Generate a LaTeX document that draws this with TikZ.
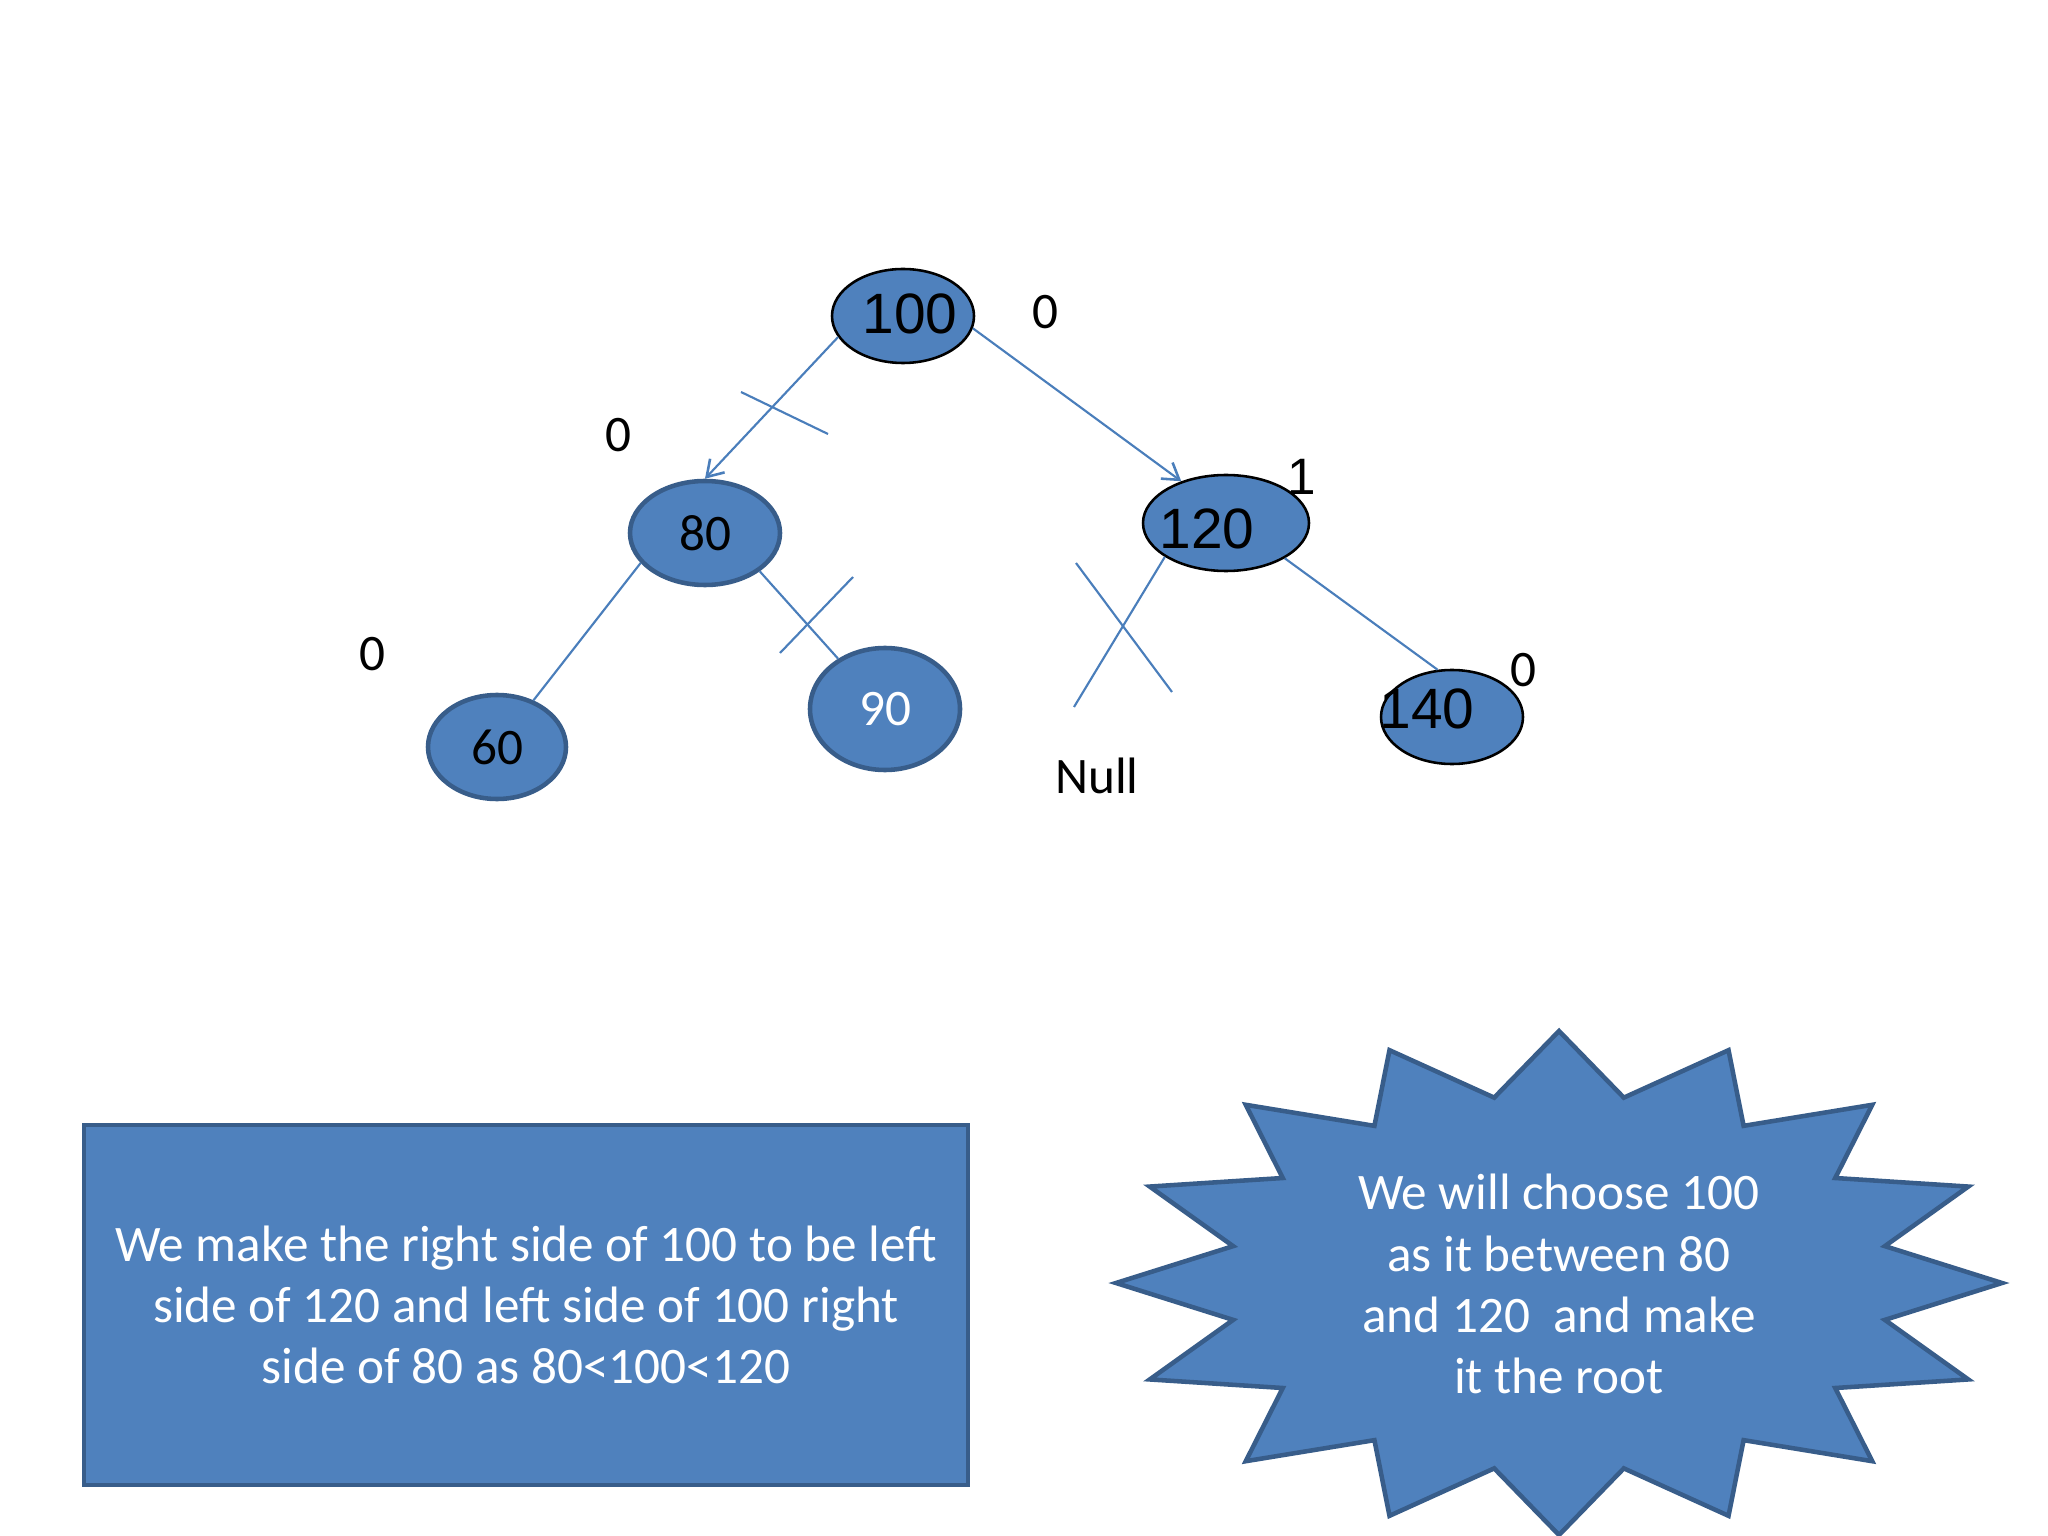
\documentclass[tikz,border=0pt]{standalone}
\usepackage{fontspec}
\setmainfont{Carlito}
\newfontfamily\arialf{Liberation Sans}
\usetikzlibrary{shapes.geometric,arrows.meta}
\definecolor{ppfill}{HTML}{4F81BD}
\definecolor{ppline}{HTML}{385D8A}
\definecolor{conn}{HTML}{4A7EBB}
\newcommand\pxu{0.3515625pt}
\begin{document}
\begin{tikzpicture}[x=0.3515625pt,y=-0.3515625pt,
  treenode/.style={ellipse, fill=ppfill, inner sep=0pt},
  bluerim/.style={draw=ppline, line width=1.6pt},
  blackrim/.style={draw=black, line width=0.9pt},
  calib/.style={font=\fontsize{18}{21.5}\selectfont, inner sep=0pt},
  arialtxt/.style={font=\arialf\fontsize{20}{24}\selectfont, inner sep=0pt},
  arialsm/.style={font=\arialf\fontsize{18}{21.5}\selectfont, inner sep=0pt},
  conline/.style={draw=conn, line width=0.75pt},
  arrowline/.style={conline, -{Straight Barb[length=5.5pt,width=7pt,line width=0.9pt]}},
  shapebox/.style={draw=ppline, fill=ppfill, line width=1.6pt}
]
\useasboundingbox (0,0) rectangle (2048,1536);

% tree nodes
\node[treenode, blackrim, minimum width=142*\pxu, minimum height=94*\pxu] (n100) at (903,316) {};
\node[arialtxt] (t100) at (910,314) {100};
\node[treenode, bluerim, minimum width=150*\pxu, minimum height=104*\pxu, calib] (n80) at (705,533) {80};
\node[treenode, blackrim, minimum width=166*\pxu, minimum height=96*\pxu] (n120) at (1226,523) {};
\node[arialtxt] (t120) at (1207,529) {120};
\node[treenode, bluerim, minimum width=138*\pxu, minimum height=104*\pxu, calib] (n60) at (497,747) {60};
\node[treenode, bluerim, minimum width=150*\pxu, minimum height=122*\pxu, calib, text=white] (n90) at (885,709) {90};
\node[treenode, blackrim, minimum width=142*\pxu, minimum height=94*\pxu] (n140) at (1452,717) {};
\node[arialtxt] (t140) at (1427,709) {140};

% balance labels
\node[calib] (z1) at (1045,312) {0};
\node[calib] (z2) at (618,435) {0};
\node[calib] (z3) at (372,654) {0};
\node[calib] (z4) at (1523,670) {0};
\node[arialsm] (one) at (1302,477) {1};
\node[calib] (null) at (1097,776) {Null};

% connectors
\draw[arrowline] (n100.198) -- (n80.north);
\draw[arrowline] (n100.-10) -- (n120.137);
\draw[conline] (n80.205) -- (n60.52);
\draw[conline] (n80.-35) -- (n90.133);
\coordinate (nullend) at (1074,707);
\draw[conline] (n120.209) -- (nullend);
\draw[conline] (n120.-31) -- (n140.107);

% cut marks
\coordinate (k1a) at (741,392);
\coordinate (k1b) at (828,434);
\coordinate (k2a) at (780,653);
\coordinate (k2b) at (853,577);
\coordinate (k3a) at (1076,563);
\coordinate (k3b) at (1172,692);
\draw[conline] (k1a) -- (k1b);
\draw[conline] (k2a) -- (k2b);
\draw[conline] (k3a) -- (k3b);

% explanation box
\node[shapebox, minimum width=884*\pxu, minimum height=360*\pxu, inner sep=0pt,
      font=\fontsize{18}{21.5}\selectfont, text=white, align=center] (box) at (526,1305)
  {We make the right side of 100 to be left\\side of 120 and left side of 100 right\\side of 80 as 80<100<120};

% star
\draw[shapebox] plot[samples at={0,...,31}, variable=\k]
  ({1559+ifthenelse(mod(\k,2)==0,443,332.25)*sin(\k*11.25)},
   {1283-ifthenelse(mod(\k,2)==0,252,189)*cos(\k*11.25)}) -- cycle;
\node[font=\fontsize{18}{21.5}\selectfont, text=white, align=center, inner sep=0pt] (startext) at (1559,1284)
  {We will choose 100\\as it between 80\\and 120\ \ and make\\it the root};
\end{tikzpicture}
\end{document}
